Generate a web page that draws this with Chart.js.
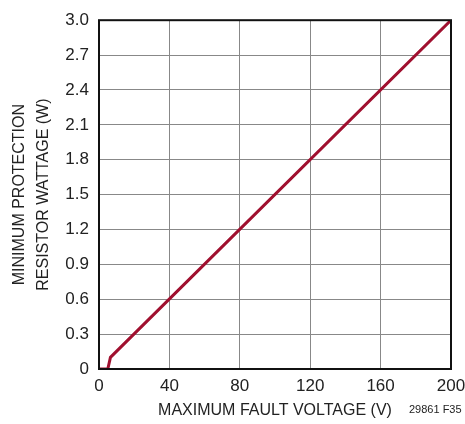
<!DOCTYPE html>
<html>
<head>
<meta charset="utf-8">
<script src="https://cdn.jsdelivr.net/npm/chart.js@4"></script>
<style>
  body { margin: 0; background: #fff; }
  #wrap { position: relative; width: 465px; height: 424px; }
  #note {
    position: absolute; left: 409px; top: 403px;
    font-family: "Liberation Sans Narrow", "Liberation Sans", sans-serif;
    font-size: 11px; color: #222;
  }
</style>
</head>
<body>
<div id="wrap">
  <canvas id="myChart" width="465" height="424"></canvas>
  <div id="note">29861 F35</div>
</div>
<script>
// fault voltage (V) vs minimum resistor wattage (W)
const voltage = [0, 5, 6.5, 200];
const wattage = [0, 0, 0.1, 3.0];
const xTicks = [0, 40, 80, 120, 160, 200];
const yTicks = [0, 0.3, 0.6, 0.9, 1.2, 1.5, 1.8, 2.1, 2.4, 2.7, 3.0];

const fontFamily = '"Liberation Sans Narrow", "Liberation Sans", sans-serif';

const frame = {
    id: "frame",
    afterDatasetsDraw(chart) {
        const a = chart.chartArea;
        const ctx = chart.ctx;
        ctx.save();
        ctx.strokeStyle = "#111";
        ctx.lineWidth = 2;
        ctx.strokeRect(a.left, a.top, a.right - a.left, a.bottom - a.top);
        ctx.restore();
    }
};

const ctx = document.getElementById("myChart").getContext("2d");

window.myChart = new Chart(ctx, {
    type: "line",
    data: {
        datasets: [{
            data: voltage.map((v, i) => ({ x: v, y: wattage[i] })),
            borderColor: "#a0102f",
            borderWidth: 3,
            pointRadius: 0,
            tension: 0
        }]
    },
    options: {
        responsive: false,
        animation: false,
        layout: { padding: { left: 4, right: 14, top: 8, bottom: 0 } },
        plugins: { legend: { display: false }, tooltip: { enabled: false } },
        scales: {
            x: {
                type: "linear",
                min: 0, max: 200,
                afterBuildTicks: axis => { axis.ticks = xTicks.map(v => ({ value: v })); },
                afterFit: axis => { axis.height = 55; axis.paddingRight = 0; },
                grid: { color: "#888", lineWidth: 1, drawTicks: false },
                border: { display: false },
                ticks: {
                    color: "#222", padding: 7,
                    font: { family: fontFamily, size: 17 },
                    callback: v => String(v)
                },
                title: {
                    display: true, text: "MAXIMUM FAULT VOLTAGE (V)", color: "#222",
                    font: { family: fontFamily, size: 16 }, padding: { top: 0, bottom: 4 }
                }
            },
            y: {
                type: "linear",
                min: 0, max: 3,
                afterBuildTicks: axis => { axis.ticks = yTicks.map(v => ({ value: v })); },
                afterFit: axis => { axis.width = 95; },
                grid: { color: "#888", lineWidth: 1, drawTicks: false },
                border: { display: false },
                ticks: {
                    color: "#222", padding: 10,
                    font: { family: fontFamily, size: 17 },
                    callback: v => v === 0 ? "0" : v.toFixed(1)
                },
                title: {
                    display: true, text: ["MINIMUM PROTECTION", "RESISTOR WATTAGE (W)"], color: "#222",
                    font: { family: fontFamily, size: 16, lineHeight: 1.5 }, padding: { bottom: 4 }
                }
            }
        }
    },
    plugins: [frame]
});
</script>
</body>
</html>
